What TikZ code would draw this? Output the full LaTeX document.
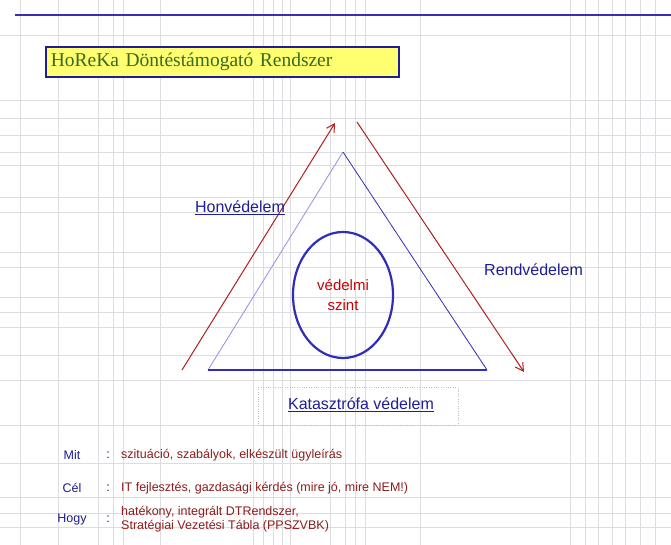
\documentclass[tikz,border=0pt]{standalone}
\usepackage{fontspec}
\setmainfont{Liberation Sans}
\newfontfamily\titlefont{Liberation Serif}
\usetikzlibrary{arrows.meta,positioning,shapes.geometric}
\definecolor{rule}{HTML}{3A2DB0}
\definecolor{guide}{HTML}{DCDCE2}
\definecolor{titlebg}{HTML}{FFFF70}
\definecolor{titleink}{HTML}{3A6A1C}
\definecolor{navy}{HTML}{1E1E96}
\definecolor{tri}{HTML}{2E2EB8}
\definecolor{trilight}{HTML}{9090E8}
\definecolor{arrowred}{HTML}{B01E1E}
\definecolor{textred}{HTML}{8E1C1C}
\newcommand{\sor}[4]{\node[rowlabel] (#1l) at (72,#2){#3};\node[rowlabel] (#1c) at (108,#2){:};\node[rowtext] (#1t) at (120,#2){#4};}

\begin{document}
\begin{tikzpicture}[x=1pt,y=-1pt,
  guideline/.style={guide,line width=0.7pt},
  titlebox/.style={draw=navy,line width=1.6pt,fill=titlebg,text=titleink,font=\titlefont\fontsize{19.5}{23}\selectfont,text width=343pt,minimum height=30pt,inner sep=5pt,align=left},
  redarrow/.style={arrowred,line width=1pt,-{Straight Barb[length=8pt,width=9pt]}},
  sidelabel/.style={navy,font=\fontsize{16}{18}\selectfont,inner sep=1pt},
  rowlabel/.style={navy,font=\fontsize{12.5}{13}\selectfont,inner sep=1pt},
  rowtext/.style={textred,font=\fontsize{12.5}{13.5}\selectfont,anchor=west,align=left,inner sep=1pt}]
\useasboundingbox (0,0) rectangle (671,545);
\fill[white] (0,0) rectangle (671,545);
% background guides
\foreach \x in {20,58,98,113,123,160,253,263,273,282,290,330,345,355,365,420,570,585,598,612,625,640,655}{\draw[guideline] (\x,0)--(\x,545);}
\foreach \y in {35,100,118,135,152,165,197,212,252,267,297,312,327,355,380,425,463,497,513,527}{\draw[guideline] (0,\y)--(671,\y);}
\draw[rule,line width=2pt] (15,15)--(671,15);
\node[titlebox,anchor=west] (title) at (45,62){HoReKa Döntéstámogató Rendszer};
% triangle and arrows
\coordinate (apex) at (343,152);\coordinate (bl) at (208,370);\coordinate (br) at (487,370);
\draw[trilight,line width=0.8pt] (bl)--(apex);\draw[tri,line width=0.8pt] (apex)--(br);\draw[tri,line width=2pt] (bl)--(br);
\coordinate (honbot) at (182,370);\coordinate (hontop) at (335,123);
\coordinate (rendtop) at (357,122);\coordinate (rendbot) at (524,372);
\draw[redarrow] (honbot)--(hontop);\draw[redarrow] (rendtop)--(rendbot);
\node[ellipse,draw=tri,line width=2.2pt,minimum width=100pt,minimum height=126pt,inner sep=0pt,align=center,text=red!80!black,font=\fontsize{15}{20}\selectfont] (szint) at (343,295){védelmi\\szint};
\node[sidelabel] (hon) at (240,208){\underline{Honvédelem}};
\node[sidelabel,anchor=west] (rend) at (483,270){Rendvédelem};
\node[sidelabel] (kat) at (361,405){\underline{Katasztrófa védelem}};
\draw[guide!70!gray,dotted] (258,387) rectangle (458,425);
% what, why, how
\sor{mit}{455}{Mit}{szituáció, szabályok, elkészült ügyleírás}
\sor{cel}{488}{Cél}{IT fejlesztés, gazdasági kérdés (mire jó, mire NEM!)}
\sor{hogy}{519}{Hogy}{hatékony, integrált DTRendszer,\\Stratégiai Vezetési Tábla (PPSZVBK)}
\end{tikzpicture}
\end{document}
